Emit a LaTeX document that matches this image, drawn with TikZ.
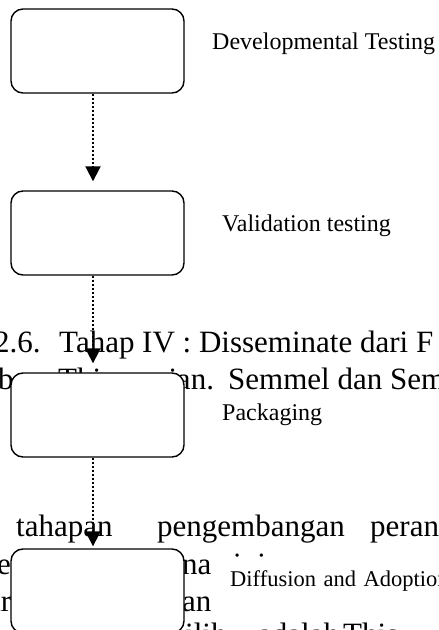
\documentclass[tikz,border=0pt]{standalone}
\usepackage{fontspec}
\setmainfont{Liberation Serif}
\usetikzlibrary{arrows.meta}
\begin{document}
\begin{tikzpicture}[x=1pt,y=1pt,
  body/.style={font=\fontsize{31}{37}\selectfont, anchor=base west, inner sep=0pt},
  lab/.style={font=\fontsize{24}{28}\selectfont, anchor=base west, inner sep=0pt},
  smalllab/.style={font=\fontsize{22.5}{26}\selectfont, anchor=base west, fill=white,
    inner xsep=12pt, inner ysep=12pt, text height=17pt, text depth=19pt,
    text width=220pt, align=left},
  stagebox/.style={draw, fill=white, rounded corners=12pt, line width=1.4pt,
    minimum width=173pt, minimum height=84pt, inner sep=0pt},
  flow/.style={line width=2pt, dash pattern=on 2pt off 2pt,
    -{Triangle[length=15pt,width=15pt]}}]
\useasboundingbox (0,0) rectangle (439,630);
% background page text
\node[body] (t1a) at (-6,277) {2.6.};
\node[body] (t1b) at (59,277) {Tahap IV : Disseminate dari F};
\node[body] (t2a) at (-2,240) {b};
\node[body] (t2b) at (58,240) {Thiagarajan.};
\node[body] (t2c) at (228,240) {Semmel dan Sem};
\node[body] (t3a) at (16,93) {tahapan};
\node[body] (t3b) at (157,93) {pengembangan};
\node[body] (t3c) at (370,93) {peran};
\node[body] (t4a) at (-3,55) {e};
\node[body] (t4b) at (182,55) {na};
\node[body] (t4c) at (233,55) {ini};
\node[body] (t5a) at (-13,18) {ar};
\node[body] (t5b) at (182,18) {an};
\node[body] (t6a) at (185,-14) {ilih};
\node[body] (t6b) at (258,-14) {adalah};
\node[body] (t6c) at (343,-14) {This};
% stage boxes
\node[stagebox] (b1) at (97.5,579) {};
\node[stagebox] (b2) at (97.5,397) {};
\node[stagebox] (b3) at (97.5,215) {};
\node[stagebox] (b4) at (97.5,39) {};
% connectors
\draw[flow] ([xshift=-4.5pt]b1.south) -- ([xshift=-4.5pt,yshift=9pt]b2.north);
\draw[flow] ([xshift=-4.5pt]b2.south) -- ([xshift=-4.5pt,yshift=9pt]b3.north);
\draw[flow] ([xshift=-4.5pt]b3.south) -- ([xshift=-4.5pt,yshift=2pt]b4.north);
% labels
\node[lab] (l1) at (212,580) {Developmental Testing};
\node[lab] (l2) at (222,398) {Validation testing};
\node[lab] (l3) at (222,209) {Packaging};
\node[smalllab] (l4) at (218,43) {Diffusion and Adoption};
\end{tikzpicture}
\end{document}
